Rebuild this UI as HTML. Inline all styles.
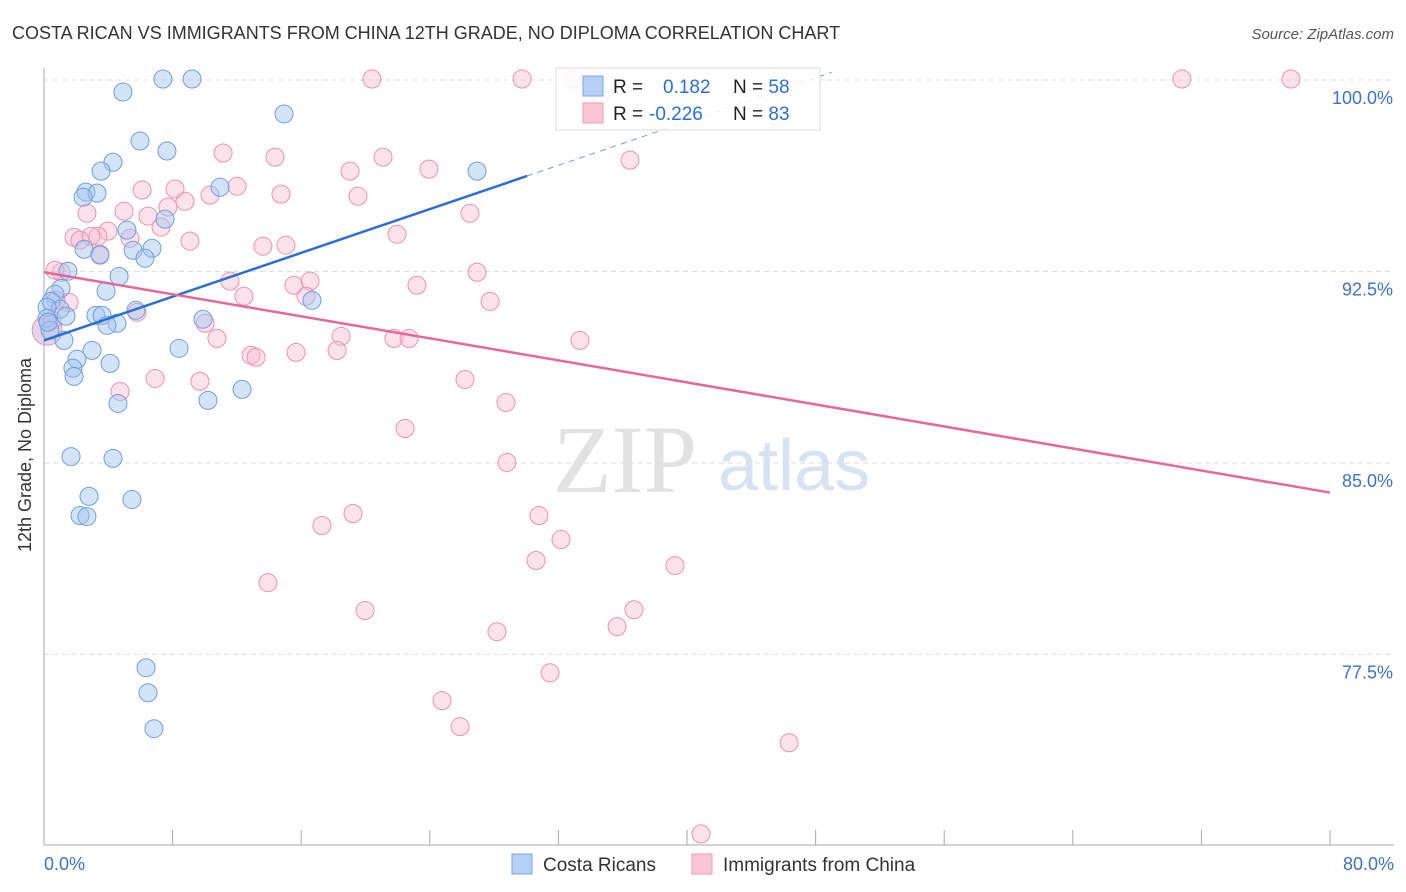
<!DOCTYPE html>
<html><head><meta charset="utf-8"><style>
body{margin:0;background:#fff;font-family:"Liberation Sans",sans-serif;}
#wrap{position:relative;width:1406px;height:892px;overflow:hidden;}
</style></head><body>
<div id="wrap">
<svg id="svg" width="1406" height="892" xmlns="http://www.w3.org/2000/svg">
<text x="12" y="39" font-size="18" fill="#333">COSTA RICAN VS IMMIGRANTS FROM CHINA 12TH GRADE, NO DIPLOMA CORRELATION CHART</text>
<text x="1394" y="39" font-size="15" fill="#555" text-anchor="end" font-style="italic">Source: ZipAtlas.com</text>
<text x="31" y="455" font-size="18" fill="#333" text-anchor="middle" transform="rotate(-90 31 455)">12th Grade, No Diploma</text>
<g>
<text x="553" y="492" font-size="96" fill="#e2e2e2" font-family="Liberation Serif,serif">ZIP</text>
<text x="718" y="490" font-size="72" fill="#d7e3f3">atlas</text>
</g>
<g id="grid"></g><g id="axes"></g><g id="pts"></g><g id="lines"></g>
<g>
<rect x="556" y="68" width="264" height="62" fill="#fff" fill-opacity="0.85" stroke="#ddd"/>
<rect x="583" y="76" width="20" height="20" fill="#b6d0f5" stroke="#7aa5e6"/>
<rect x="583" y="103" width="20" height="20" fill="#fac6d6" stroke="#f09ab5"/>
<text x="613" y="93" font-size="19" fill="#222">R = <tspan x="663" fill="#2d6fd0">0.182</tspan><tspan x="733" fill="#222">N = </tspan><tspan fill="#2d6fd0">58</tspan></text>
<text x="613" y="120" font-size="19" fill="#222">R = <tspan x="649" fill="#2d6fd0">-0.226</tspan><tspan x="733" fill="#222">N = </tspan><tspan fill="#2d6fd0">83</tspan></text>
</g>
<g>
<rect x="512" y="854" width="20" height="20" fill="#b6d0f5" stroke="#7aa5e6"/>
<text x="543" y="871" font-size="19" fill="#333">Costa Ricans</text>
<rect x="692" y="854" width="20" height="20" fill="#fac6d6" stroke="#f09ab5"/>
<text x="723" y="871" font-size="19" fill="#333">Immigrants from China</text>
</g>
</svg>
<script>
const yTicks=[100,92.5,85,77.5];
const yTickLabels=["100.0%","92.5%","85.0%","77.5%"];
const xTickLabels=["0.0%","80.0%"];
const blueX=[4.91,7.40,9.21,14.93,5.97,7.65,4.29,3.55,26.94,2.61,3.30,2.43,10.95,7.53,5.16,6.72,2.49,3.48,5.54,6.28,1.49,4.67,3.86,1.06,0.68,0.44,1.00,0.19,1.37,0.19,3.23,3.61,4.54,3.92,5.72,9.89,16.67,1.24,2.99,2.05,4.11,1.80,1.87,8.40,4.60,10.20,12.32,1.68,4.29,2.80,5.47,2.24,2.67,6.35,6.47,6.84,0.37,0.25];
const blueY=[99.53,100.04,100.04,98.67,97.61,97.22,96.78,96.43,96.43,95.61,95.57,95.41,95.80,94.55,94.12,93.41,93.37,93.14,93.33,93.02,92.51,92.31,91.73,91.84,91.61,91.33,91.02,91.10,90.75,90.67,90.78,90.78,90.47,90.39,90.98,90.63,91.37,89.80,89.41,89.06,88.90,88.71,88.39,89.49,87.33,87.45,87.88,85.25,85.18,83.69,83.57,82.94,82.90,76.98,76.00,74.59,90.20,90.51];
const pinkX=[20.40,29.74,32.97,70.79,77.57,11.14,14.37,21.09,19.04,23.95,36.45,6.10,8.15,12.01,14.74,19.53,10.33,8.77,7.71,4.98,6.47,2.67,26.50,7.28,3.98,3.36,1.87,2.92,5.35,9.08,13.62,15.05,21.96,2.24,3.48,1.06,26.94,11.57,15.55,16.55,23.20,12.44,16.30,27.75,1.56,5.79,10.02,18.48,21.77,22.71,33.34,10.76,12.88,13.19,15.68,18.23,6.91,9.70,26.19,4.73,28.74,22.46,28.80,17.29,19.22,30.79,32.16,13.93,30.61,39.25,19.97,36.70,35.65,28.18,31.48,24.76,25.88,46.35,40.87,0.68,0.50,0.75,34.6];
const pinkY=[100.04,100.04,100.04,100.04,100.04,97.14,96.98,96.98,96.43,96.51,96.86,95.69,95.73,95.84,95.53,95.45,95.49,95.25,95.02,94.86,94.67,94.78,94.78,94.24,94.08,93.88,93.84,93.88,93.80,93.69,93.49,93.53,93.96,93.73,93.18,92.47,92.47,92.12,91.96,92.12,91.96,91.53,91.53,91.33,91.29,90.90,90.47,89.96,89.88,89.88,89.80,89.88,89.22,89.14,89.33,89.41,88.31,88.20,88.27,87.80,87.37,86.35,85.02,82.55,83.02,82.94,82.00,80.31,81.18,80.98,79.22,79.25,78.59,78.39,76.78,75.69,74.67,74.04,70.47,92.55,90.59,91.37,99.4];
const blueFit=[89.8,96.24,30.05];
const pinkFit=[92.47,83.84];
const X=v=>44+v/80*1286, Y=v=>80+(100-v)*25.53;
const NS="http://www.w3.org/2000/svg";
function mk(p,t,a){const e=document.createElementNS(NS,t);for(const k in a)e.setAttribute(k,a[k]);document.getElementById(p).appendChild(e);return e;}
yTicks.forEach((v,i)=>{
 const l=mk('grid','line',{x1:44,x2:1394,y1:Y(v),y2:Y(v),stroke:'#ddd','stroke-dasharray':'5,4'});
 
 
 const t=mk('grid','text',{x:1393,y:Y(v)+24,'font-size':18,fill:'#3b72cc','text-anchor':'end'});t.textContent=yTickLabels[i];
 
 
});
const ax=mk('axes','line',{x1:44,x2:44,y1:68,y2:845,stroke:'#aaa'});


const xa=mk('axes','line',{x1:44,x2:1394,y1:845,y2:845,stroke:'#aaa'});


for(let i=0;i<=10;i++){const t=mk('axes','line',{x1:X(i*8),x2:X(i*8),y1:830,y2:845,stroke:'#aaa'});
 
 }
[[0,44,'start'],[80,1394,'end']].forEach((d,i)=>{const t=mk('axes','text',{x:d[1],y:870,'font-size':18,fill:'#3b72cc','text-anchor':d[2]});t.textContent=xTickLabels[i];
 
 });
// big overlapping blob near origin
const b1=mk('pts','circle',{cx:X(0.2),cy:Y(90.2),r:15,fill:'rgba(200,160,200,0.45)',stroke:'#c89ac4'});


pinkX.forEach((x,i)=>{const c=mk('pts','circle',{cx:X(x),cy:Y(pinkY[i]),r:9,fill:'rgba(248,184,204,0.4)',stroke:'#f090b0','stroke-width':1});
 
 });
blueX.forEach((x,i)=>{const c=mk('pts','circle',{cx:X(x),cy:Y(blueY[i]),r:9,fill:'rgba(160,196,240,0.45)',stroke:'#6f9fe0','stroke-width':1});
 
 });
const sl=(blueFit[1]-blueFit[0])/blueFit[2];
const bl=mk('lines','line',{x1:X(0),y1:Y(blueFit[0]),x2:X(blueFit[2]),y2:Y(blueFit[1]),stroke:'#2a6fd6','stroke-width':2.5});


const bd=mk('lines','line',{x1:X(blueFit[2]),y1:Y(blueFit[1]),x2:X(49),y2:Y(blueFit[0]+sl*49),stroke:'#6f9fe0','stroke-width':1,'stroke-dasharray':'6,5'});


const pl=mk('lines','line',{x1:X(0),y1:Y(pinkFit[0]),x2:X(80),y2:Y(pinkFit[1]),stroke:'#e8679a','stroke-width':2.5});


</script>
</div></body></html>
